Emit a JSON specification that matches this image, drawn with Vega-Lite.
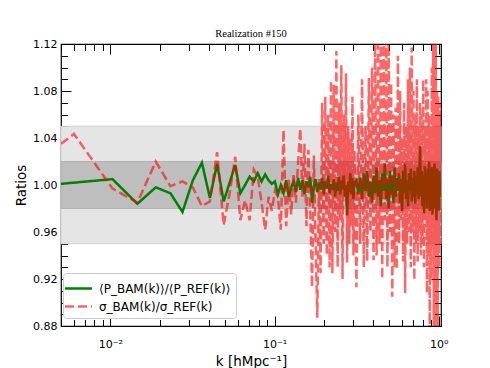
{
  "$schema": "https://vega.github.io/schema/vega-lite/v6.json",
  "width": 380,
  "height": 282,
  "autosize": {"type": "none"},
  "padding": {"left": 61, "top": 44, "right": 49, "bottom": 42},
  "config": {
    "view": {"stroke": "#000000", "strokeWidth": 1.2},
    "font": "DejaVu Sans",
    "axis": {"domain": false, "grid": false, "tickColor": "#000000", "tickWidth": 1, "labelColor": "#000000", "titleColor": "#000000", "titleFontWeight": "normal", "zindex": 1, "labelOverlap": false, "labelFlush": false}
  },
  "title": {"text": "Realization #150", "font": "Liberation Serif", "fontSize": 10.5, "fontWeight": "normal", "color": "#000000", "offset": -1},
  "datasets": {
    "bands": [
      {"b": "light", "lo": 0.95, "hi": 1.05},
      {"b": "dark", "lo": 0.98, "hi": 1.02}
    ],
    "pk": [
      {"k": 0.005, "g": 1.001, "r": 1.035},
      {"k": 0.006, "g": 1.002, "r": 1.0435},
      {"k": 0.0103, "g": 1.005, "r": 0.997},
      {"k": 0.0146, "g": 0.984, "r": 0.985},
      {"k": 0.0189, "g": 0.998, "r": 1.02},
      {"k": 0.0232, "g": 0.993, "r": 0.999},
      {"k": 0.0275, "g": 0.977, "r": 1.003},
      {"k": 0.0318, "g": 1.004, "r": 0.998},
      {"k": 0.0361, "g": 1.019, "r": 0.982},
      {"k": 0.0404, "g": 0.989, "r": 0.986},
      {"k": 0.0447, "g": 1.018, "r": 1.028},
      {"k": 0.049, "g": 0.986, "r": 0.966},
      {"k": 0.0533, "g": 1.002, "r": 0.993},
      {"k": 0.0576, "g": 1.017, "r": 1.024},
      {"k": 0.0619, "g": 0.993, "r": 0.97},
      {"k": 0.0662, "g": 1.0, "r": 0.987},
      {"k": 0.0705, "g": 1.007, "r": 0.97},
      {"k": 0.0748, "g": 1.003, "r": 1.013},
      {"k": 0.0791, "g": 1.01, "r": 1.007},
      {"k": 0.0834, "g": 1.003, "r": 0.985},
      {"k": 0.0877, "g": 1.009, "r": 0.962},
      {"k": 0.092, "g": 1.004, "r": 0.99},
      {"k": 0.0963, "g": 1.001, "r": 0.978},
      {"k": 0.1006, "g": 1.003, "r": 0.995},
      {"k": 0.1049, "g": 0.992, "r": 0.99},
      {"k": 0.1092, "g": 1.0, "r": 0.962},
      {"k": 0.1135, "g": 0.993, "r": 1.047},
      {"k": 0.1178, "g": 1.004, "r": 0.965},
      {"k": 0.1221, "g": 0.99, "r": 1.005},
      {"k": 0.1264, "g": 0.998, "r": 0.975},
      {"k": 0.1307, "g": 1.003, "r": 1.01},
      {"k": 0.135, "g": 0.994, "r": 0.985},
      {"k": 0.1393, "g": 1.006, "r": 1.02},
      {"k": 0.1436, "g": 0.996, "r": 1.048},
      {"k": 0.1479, "g": 1.004, "r": 0.99},
      {"k": 0.1522, "g": 0.992, "r": 1.035},
      {"k": 0.1565, "g": 1.003, "r": 0.965},
      {"k": 0.1608, "g": 0.998, "r": 1.03},
      {"k": 0.1651, "g": 1.007, "r": 0.98},
      {"k": 0.1694, "g": 0.985, "r": 0.913},
      {"k": 0.1737, "g": 0.999, "r": 1.025},
      {"k": 0.178, "g": 1.005, "r": 0.95},
      {"k": 0.1823, "g": 0.994, "r": 0.887},
      {"k": 0.1866, "g": 1.002, "r": 1.005},
      {"k": 0.1909, "g": 0.996, "r": 0.925},
      {"k": 0.1952, "g": 1.006, "r": 1.07},
      {"k": 0.1995, "g": 0.992, "r": 0.95},
      {"k": 0.2038, "g": 1.003, "r": 1.075},
      {"k": 0.2081, "g": 0.997, "r": 0.94},
      {"k": 0.2124, "g": 1.008, "r": 1.06},
      {"k": 0.2167, "g": 0.993, "r": 0.93},
      {"k": 0.221, "g": 1.001, "r": 1.089},
      {"k": 0.2253, "g": 0.996, "r": 0.925},
      {"k": 0.2296, "g": 1.005, "r": 1.085},
      {"k": 0.2339, "g": 0.99, "r": 0.96},
      {"k": 0.2382, "g": 1.002, "r": 1.114},
      {"k": 0.2425, "g": 0.995, "r": 0.93},
      {"k": 0.2468, "g": 1.007, "r": 1.07},
      {"k": 0.2511, "g": 0.992, "r": 0.97},
      {"k": 0.2554, "g": 1.004, "r": 1.102},
      {"k": 0.2597, "g": 0.996, "r": 0.92},
      {"k": 0.264, "g": 1.008, "r": 1.06},
      {"k": 0.2683, "g": 0.99, "r": 0.99},
      {"k": 0.2726, "g": 1.0, "r": 1.095},
      {"k": 0.2769, "g": 0.974, "r": 0.934},
      {"k": 0.2812, "g": 1.003, "r": 1.05},
      {"k": 0.2855, "g": 0.994, "r": 0.95},
      {"k": 0.2898, "g": 1.01, "r": 1.04},
      {"k": 0.2941, "g": 0.992, "r": 0.965},
      {"k": 0.2984, "g": 1.006, "r": 1.075},
      {"k": 0.3027, "g": 0.988, "r": 0.94},
      {"k": 0.307, "g": 1.002, "r": 1.03},
      {"k": 0.3156, "g": 1.004, "r": 0.913},
      {"k": 0.3242, "g": 0.992, "r": 1.06},
      {"k": 0.3328, "g": 1.006, "r": 0.95},
      {"k": 0.3414, "g": 0.988, "r": 1.09},
      {"k": 0.35, "g": 1.01, "r": 0.93},
      {"k": 0.3586, "g": 0.995, "r": 1.05},
      {"k": 0.3672, "g": 1.012, "r": 0.935},
      {"k": 0.3758, "g": 0.99, "r": 1.091},
      {"k": 0.3844, "g": 1.003, "r": 0.96},
      {"k": 0.393, "g": 0.985, "r": 1.1},
      {"k": 0.4016, "g": 1.008, "r": 0.936},
      {"k": 0.4102, "g": 0.993, "r": 1.125},
      {"k": 0.4188, "g": 1.015, "r": 0.94},
      {"k": 0.4274, "g": 0.99, "r": 1.13},
      {"k": 0.436, "g": 1.004, "r": 0.95},
      {"k": 0.4446, "g": 0.982, "r": 1.13},
      {"k": 0.4532, "g": 1.01, "r": 0.92},
      {"k": 0.4618, "g": 0.995, "r": 1.125},
      {"k": 0.4704, "g": 1.018, "r": 0.97},
      {"k": 0.479, "g": 0.988, "r": 1.14},
      {"k": 0.4876, "g": 1.005, "r": 0.93},
      {"k": 0.4962, "g": 0.98, "r": 1.12},
      {"k": 0.5048, "g": 1.012, "r": 0.96},
      {"k": 0.5134, "g": 0.992, "r": 1.087},
      {"k": 0.522, "g": 1.008, "r": 0.905},
      {"k": 0.5306, "g": 0.985, "r": 1.06},
      {"k": 0.5392, "g": 1.015, "r": 0.93},
      {"k": 0.5478, "g": 0.99, "r": 1.066},
      {"k": 0.5564, "g": 1.006, "r": 0.928},
      {"k": 0.565, "g": 0.995, "r": 1.11},
      {"k": 0.5736, "g": 1.01, "r": 0.95},
      {"k": 0.5822, "g": 0.985, "r": 1.08},
      {"k": 0.5908, "g": 1.005, "r": 0.97},
      {"k": 0.5994, "g": 0.978, "r": 1.04},
      {"k": 0.608, "g": 1.012, "r": 0.935},
      {"k": 0.6166, "g": 0.993, "r": 1.07},
      {"k": 0.6252, "g": 1.018, "r": 0.908},
      {"k": 0.6338, "g": 0.988, "r": 1.05},
      {"k": 0.6424, "g": 1.004, "r": 0.95},
      {"k": 0.651, "g": 0.982, "r": 1.09},
      {"k": 0.6596, "g": 1.01, "r": 0.96},
      {"k": 0.6682, "g": 0.995, "r": 1.1},
      {"k": 0.6768, "g": 1.014, "r": 0.93},
      {"k": 0.6854, "g": 0.986, "r": 1.117},
      {"k": 0.694, "g": 1.006, "r": 0.96},
      {"k": 0.7026, "g": 0.99, "r": 1.08},
      {"k": 0.7112, "g": 1.012, "r": 0.919},
      {"k": 0.7198, "g": 0.984, "r": 1.06},
      {"k": 0.7284, "g": 1.008, "r": 0.95},
      {"k": 0.737, "g": 0.992, "r": 1.09},
      {"k": 0.7456, "g": 1.015, "r": 0.935},
      {"k": 0.7542, "g": 0.988, "r": 1.05},
      {"k": 0.7628, "g": 1.01, "r": 0.96},
      {"k": 0.7714, "g": 1.033, "r": 1.07},
      {"k": 0.78, "g": 0.99, "r": 0.94},
      {"k": 0.7886, "g": 1.012, "r": 1.06},
      {"k": 0.7972, "g": 0.982, "r": 0.95},
      {"k": 0.8058, "g": 1.008, "r": 1.09},
      {"k": 0.8144, "g": 0.976, "r": 0.93},
      {"k": 0.823, "g": 1.016, "r": 1.05},
      {"k": 0.8316, "g": 0.99, "r": 0.97},
      {"k": 0.8402, "g": 1.01, "r": 1.09},
      {"k": 0.8488, "g": 0.98, "r": 0.908},
      {"k": 0.8574, "g": 1.014, "r": 1.08},
      {"k": 0.866, "g": 0.992, "r": 0.94},
      {"k": 0.8746, "g": 1.02, "r": 1.06},
      {"k": 0.8832, "g": 0.978, "r": 0.87},
      {"k": 0.8918, "g": 1.006, "r": 1.05},
      {"k": 0.9004, "g": 0.986, "r": 0.92},
      {"k": 0.909, "g": 1.015, "r": 1.1},
      {"k": 0.9176, "g": 0.975, "r": 0.95},
      {"k": 0.9262, "g": 1.01, "r": 1.13},
      {"k": 0.9348, "g": 0.988, "r": 0.875},
      {"k": 0.9434, "g": 1.018, "r": 1.135},
      {"k": 0.952, "g": 0.98, "r": 0.9},
      {"k": 0.9606, "g": 1.008, "r": 1.14},
      {"k": 0.9692, "g": 0.97, "r": 0.88},
      {"k": 0.9778, "g": 1.014, "r": 1.08},
      {"k": 0.9864, "g": 0.985, "r": 0.87},
      {"k": 0.995, "g": 1.01, "r": 1.075},
      {"k": 1.0036, "g": 0.978, "r": 0.93},
      {"k": 1.0122, "g": 1.012, "r": 1.07},
      {"k": 1.0208, "g": 0.99, "r": 0.95},
      {"k": 1.0294, "g": 1.0, "r": 1.06},
      {"k": 1.034, "g": 0.995, "r": 1.0}
    ]
  },
  "layer": [
    {
      "data": {"name": "bands"},
      "transform": [{"filter": "datum.b == 'light'"}],
      "mark": {"type": "rect", "fill": "#e5e5e5", "stroke": "#d2d2d2", "strokeWidth": 1},
      "encoding": {
        "y": {
          "field": "lo", "type": "quantitative",
          "scale": {"domain": [0.88, 1.12], "nice": false, "zero": false},
          "axis": {
            "orient": "left",
            "values": [0.88, 0.89, 0.9, 0.91, 0.92, 0.93, 0.94, 0.95, 0.96, 0.97, 0.98, 0.99, 1, 1.01, 1.02, 1.03, 1.04, 1.05, 1.06, 1.07, 1.08, 1.09, 1.1, 1.11, 1.12],
            "labelExpr": "round(datum.value*100) % 4 == 0 ? format(datum.value, '.2f') : ''",
            "tickSize": {"condition": {"test": "round(datum.value*100) % 4 == 0", "value": -10}, "value": -6.5},
            "labelPadding": 14,
            "labelFontSize": 11,
            "title": "Ratios",
            "titleFontSize": 13.5,
            "titlePadding": 4
          }
        },
        "y2": {"field": "hi"}
      }
    },
    {
      "data": {"name": "bands"},
      "transform": [{"filter": "datum.b == 'dark'"}],
      "mark": {"type": "rect", "fill": "#bebebe", "stroke": "#b2b2b2", "strokeWidth": 1},
      "encoding": {
        "y": {"field": "lo", "type": "quantitative", "axis": null},
        "y2": {"field": "hi"}
      }
    },
    {
      "data": {"name": "pk"},
      "transform": [{"fold": ["g", "r"], "as": ["s", "v"]}],
      "mark": {"type": "line", "strokeWidth": 2.5, "clip": true},
      "encoding": {
        "x": {
          "field": "k", "type": "quantitative",
          "scale": {"type": "log", "domain": [0.005, 1.034], "nice": false},
          "axis": {
            "orient": "bottom",
            "values": [0.005, 0.006, 0.007, 0.008, 0.009, 0.01, 0.02, 0.03, 0.04, 0.05, 0.06, 0.07, 0.08, 0.09, 0.1, 0.2, 0.3, 0.4, 0.5, 0.6, 0.7, 0.8, 0.9, 1],
            "labelExpr": "datum.value == 0.01 ? '10⁻²' : datum.value == 0.1 ? '10⁻¹' : datum.value == 1 ? '10⁰' : ''",
            "tickSize": {"condition": {"test": "indexof([0.01, 0.1, 1], datum.value) >= 0", "value": -10}, "value": -6.5},
            "labelPadding": 22,
            "labelFontSize": 11,
            "title": "k [hMpc⁻¹]",
            "titleFontSize": 13.5,
            "titlePadding": 2
          }
        },
        "y": {"field": "v", "type": "quantitative", "axis": null},
        "color": {
          "field": "s", "type": "nominal", "title": null,
          "scale": {"domain": ["g", "r"], "range": ["#008000", "#ff0000"]},
          "legend": {
            "orient": "none", "legendX": 2, "legendY": 229,
            "symbolType": "M-1.5,0H1.5", "symbolSize": 324, "symbolStrokeWidth": 2.5, "symbolFillColor": "transparent",
            "labelFontSize": 12, "labelFont": "DejaVu Sans", "labelColor": "#000000", "labelOffset": 10,
            "fillColor": "#ffffff", "strokeColor": "#cccccc", "cornerRadius": 3,
            "padding": 5, "rowPadding": 1,
            "labelExpr": "datum.value == 'g' ? '⟨P_BAM(k)⟩/⟨P_REF(k)⟩' : 'σ_BAM(k)/σ_REF(k)'"
          }
        },
        "strokeDash": {
          "field": "s", "type": "nominal", "title": null,
          "scale": {"domain": ["g", "r"], "range": [[1, 0], [9, 4]]}
        },
        "opacity": {
          "field": "s", "type": "nominal", "title": null,
          "scale": {"domain": ["g", "r"], "range": [1, 0.6]}
        }
      }
    },
    {
      "data": {"name": "pk"},
      "mark": {"type": "point", "opacity": 0},
      "encoding": {
        "x": {
          "field": "k", "type": "quantitative",
          "axis": {
            "orient": "top",
            "values": [0.005, 0.006, 0.007, 0.008, 0.009, 0.01, 0.02, 0.03, 0.04, 0.05, 0.06, 0.07, 0.08, 0.09, 0.1, 0.2, 0.3, 0.4, 0.5, 0.6, 0.7, 0.8, 0.9, 1],
            "labels": false,
            "tickSize": {"condition": {"test": "indexof([0.01, 0.1, 1], datum.value) >= 0", "value": -10}, "value": -6.5},
            "title": null
          }
        },
        "y": {
          "field": "g", "type": "quantitative",
          "axis": {
            "orient": "right",
            "values": [0.88, 0.89, 0.9, 0.91, 0.92, 0.93, 0.94, 0.95, 0.96, 0.97, 0.98, 0.99, 1, 1.01, 1.02, 1.03, 1.04, 1.05, 1.06, 1.07, 1.08, 1.09, 1.1, 1.11, 1.12],
            "labels": false,
            "tickSize": {"condition": {"test": "round(datum.value*100) % 4 == 0", "value": -10}, "value": -6.5},
            "title": null
          }
        }
      }
    }
  ],
  "resolve": {"axis": {"x": "independent", "y": "independent"}}
}
